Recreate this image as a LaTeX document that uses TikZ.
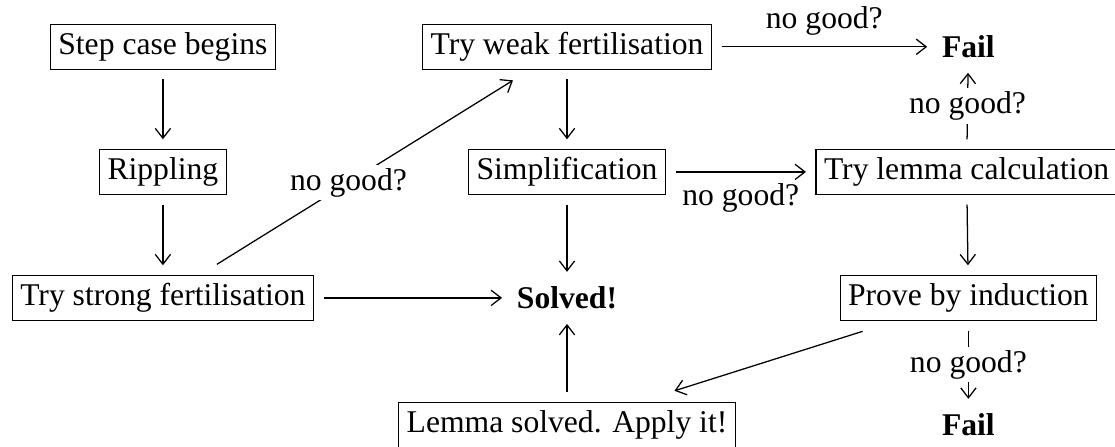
\documentclass[tikz,border=0pt]{standalone}
\usepackage{fontspec}
\setmainfont{Liberation Serif}
\usepackage{tikz}
\usetikzlibrary{arrows.meta}

\begin{document}
\begin{tikzpicture}[
    box/.style={draw, thin, inner sep=2.5pt, minimum height=0.5cm,
                font=\normalsize},
    goal/.style={inner sep=1.5pt, font=\normalsize\bfseries},
    arrow/.style={-{Straight Barb[length=1.1mm, width=1.7mm]}, thin,
                  shorten >=3pt, shorten <=3pt},
    tag/.style={font=\normalsize, fill=white, inner sep=1pt}
]
\useasboundingbox (0,0) rectangle (12.389,-4.956);
\node[box] (S) at (1.81,-0.52)  {Step case begins};
\node[box] (R) at (1.81,-1.91)  {Rippling};
\node[box] (T) at (1.81,-3.31)  {Try strong fertilisation};
\node[box] (W) at (6.30,-0.52)  {Try weak fertilisation};
\node[box] (P) at (6.30,-1.91)  {Simplification};
\node[goal] (V) at (6.30,-3.31) {Solved!};
\node[box] (A) at (6.30,-4.72)  {Lemma solved. Apply it!};
\node[goal] (F) at (10.76,-0.52) {Fail};
\node[box] (C) at (10.74,-1.91) {Try lemma calculation};
\node[box] (I) at (10.76,-3.31) {Prove by induction};
\node[goal] (G) at (10.76,-4.72) {Fail};
\draw[arrow] (S) -- (R);
\draw[arrow] (R) -- (T);
\draw[arrow] (T) -- (V);
\draw[arrow, shorten <=0.22cm, shorten >=0.22cm] (T) -- node[tag, pos=0.45] {no good?} (W);
\draw[arrow] (W) -- (P);
\draw[arrow] (W) -- node[above=0pt] {no good?} (F);
\draw[arrow] (P) -- (V);
\draw[arrow] (P) -- node[below=0pt] {no good?} (C);
\draw[arrow] (C) -- node[tag] {no good?} (F);
\draw[arrow] (C) -- (I);
\draw[arrow] (I) -- node[tag] {no good?} (G);
\draw[arrow, shorten <=0.38cm, shorten >=0.4cm] (I) -- (A);
\draw[arrow] (A) -- (V);
\end{tikzpicture}
\end{document}
